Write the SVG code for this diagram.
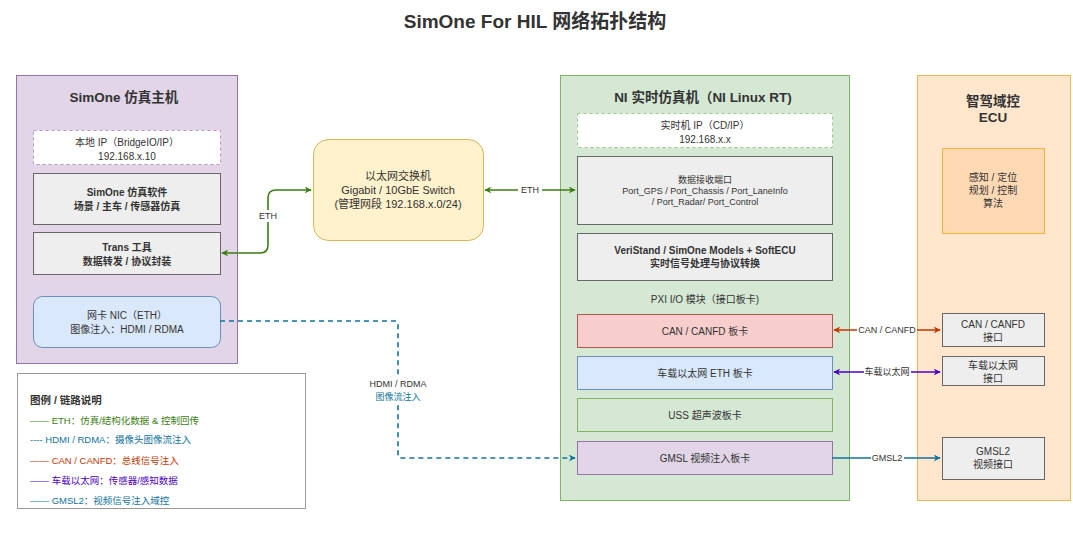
<svg xmlns="http://www.w3.org/2000/svg" width="1073" height="535" viewBox="0 0 1073 535">
<defs>
<style>
text{font-family:"Liberation Sans","Noto Sans CJK SC",sans-serif;fill:#333;text-anchor:middle}
.t{font-size:19px;font-weight:bold}
.h{font-size:13.5px;font-weight:bold}
.n{font-size:10px}
.b{font-weight:bold}
.s{font-size:9px}
.lg{font-size:9.5px;text-anchor:start}
.box{fill:#eeeeee;stroke:#666666;stroke-width:1}
.lbl{font-size:9px}
</style>
<marker id="ag" viewBox="0 0 10 10" refX="9" refY="5" markerWidth="7" markerHeight="7" orient="auto-start-reverse" markerUnits="userSpaceOnUse"><path d="M0,0 L10,5 L0,10 L3,5 z" fill="#3c7d12"/></marker>
<marker id="ar" viewBox="0 0 10 10" refX="9" refY="5" markerWidth="7" markerHeight="7" orient="auto-start-reverse" markerUnits="userSpaceOnUse"><path d="M0,0 L10,5 L0,10 L3,5 z" fill="#c73500"/></marker>
<marker id="ap" viewBox="0 0 10 10" refX="9" refY="5" markerWidth="7" markerHeight="7" orient="auto-start-reverse" markerUnits="userSpaceOnUse"><path d="M0,0 L10,5 L0,10 L3,5 z" fill="#4c00c8"/></marker>
<marker id="ab" viewBox="0 0 10 10" refX="9" refY="5" markerWidth="7" markerHeight="7" orient="auto-start-reverse" markerUnits="userSpaceOnUse"><path d="M0,0 L10,5 L0,10 L3,5 z" fill="#10739e"/></marker>
</defs>
<rect width="1073" height="535" fill="#ffffff"/>
<text class="t" x="535" y="28">SimOne For HIL 网络拓扑结构</text>

<g id="simone-host">
<rect x="16.5" y="75.5" width="221" height="288" fill="#e1d5e7" stroke="#9673a6"/>
<text class="h" x="124" y="102">SimOne 仿真主机</text>
</g>
<g id="local-ip">
<rect x="33.5" y="130.5" width="187" height="34" fill="#ffffff" stroke="#b39cc8" stroke-dasharray="3,3"/>
<text class="n" x="127" y="146">本地 IP（BridgeIO/IP）</text>
<text class="n" x="127" y="160">192.168.x.10</text>
</g>
<g id="simone-sw">
<rect class="box" x="33.5" y="173.5" width="187" height="51"/>
<text class="n b" x="127" y="196">SimOne 仿真软件</text>
<text class="n b" x="127" y="210">场景 / 主车 / 传感器仿真</text>
</g>
<g id="trans">
<rect class="box" x="33.5" y="232.5" width="187" height="42"/>
<text class="n b" x="127" y="251">Trans 工具</text>
<text class="n b" x="127" y="265">数据转发 / 协议封装</text>
</g>
<g id="nic">
<rect x="33.5" y="296.5" width="187" height="51" rx="9" fill="#dae8fc" stroke="#6c8ebf"/>
<text class="n" x="127" y="319">网卡 NIC（ETH）</text>
<text class="n" x="127" y="333">图像注入：HDMI / RDMA</text>
</g>

<g id="switch">
<rect x="313.5" y="139.5" width="170" height="101" rx="15" fill="#fff2cc" stroke="#d6b656"/>
<text style="font-size:11px" x="398" y="180">以太网交换机</text>
<text style="font-size:11px" x="398" y="194">Gigabit / 10GbE Switch</text>
<text style="font-size:11px" x="398" y="208">(管理网段 192.168.x.0/24)</text>
</g>

<g id="ni-rt">
<rect x="560.5" y="75.5" width="289" height="425" fill="#d5e8d4" stroke="#82b366"/>
<text class="h" x="703" y="102">NI 实时仿真机（NI Linux RT)</text>
</g>
<g id="rt-ip">
<rect x="577.5" y="113.5" width="255" height="34" fill="#ffffff" stroke="#9cc98a" stroke-dasharray="3,3"/>
<text class="n" x="705" y="129">实时机 IP（CD/IP）</text>
<text class="n" x="705" y="143">192.168.x.x</text>
</g>
<g id="ports">
<rect class="box" x="577.5" y="156.5" width="255" height="68"/>
<text class="s" x="705" y="183">数据接收端口</text>
<text class="s" x="705" y="194">Port_GPS / Port_Chassis / Port_LaneInfo</text>
<text class="s" x="705" y="205">/ Port_Radar/ Port_Control</text>
</g>
<g id="veristand">
<rect class="box" x="577.5" y="233.5" width="255" height="47"/>
<text class="n b" x="705" y="254">VeriStand / SimOne Models + SoftECU</text>
<text class="n b" x="705" y="267">实时信号处理与协议转换</text>
</g>
<text class="n" x="705" y="303">PXI I/O 模块（接口板卡)</text>
<g id="can-card">
<rect x="577.5" y="314.5" width="255" height="33" fill="#f8cecc" stroke="#b85450"/>
<text class="n" x="705" y="335">CAN / CANFD 板卡</text>
</g>
<g id="eth-card">
<rect x="577.5" y="356.5" width="255" height="33" fill="#dae8fc" stroke="#6c8ebf"/>
<text class="n" x="705" y="377">车载以太网 ETH 板卡</text>
</g>
<g id="uss-card">
<rect x="577.5" y="398.5" width="255" height="33" fill="#d5e8d4" stroke="#82b366"/>
<text class="n" x="705" y="419">USS 超声波板卡</text>
</g>
<g id="gmsl-card">
<rect x="577.5" y="441.5" width="255" height="33" fill="#e1d5e7" stroke="#9673a6"/>
<text class="n" x="705" y="462">GMSL 视频注入板卡</text>
</g>

<g id="ecu">
<rect x="917.5" y="75.5" width="153" height="425" fill="#ffe6cc" stroke="#e8b84e"/>
<text class="h" x="993" y="106">智驾域控</text>
<text class="h" x="993" y="122">ECU</text>
</g>
<g id="algo">
<rect x="942.5" y="148.5" width="102" height="85" fill="#ffd9b3" stroke="#f0b43c"/>
<text class="n" x="993" y="181">感知 / 定位</text>
<text class="n" x="993" y="194">规划 / 控制</text>
<text class="n" x="993" y="207">算法</text>
</g>
<g id="can-if">
<rect class="box" x="942.5" y="313.5" width="102" height="33"/>
<text class="n" x="993" y="328">CAN / CANFD</text>
<text class="n" x="993" y="341">接口</text>
</g>
<g id="eth-if">
<rect class="box" x="942.5" y="356.5" width="102" height="29"/>
<text class="n" x="993" y="369">车载以太网</text>
<text class="n" x="993" y="382">接口</text>
</g>
<g id="gmsl-if">
<rect class="box" x="942.5" y="437.5" width="102" height="42"/>
<text class="n" x="993" y="455">GMSL2</text>
<text class="n" x="993" y="468">视频接口</text>
</g>

<g id="connectors" fill="none" stroke-width="1.6">
<path d="M311,190 H276 Q268,190 268,198 V245 Q268,253 260,253 H222" stroke="#3c7d12" marker-start="url(#ag)" marker-end="url(#ag)"/>
<path d="M485,190 H575" stroke="#3c7d12" marker-start="url(#ag)" marker-end="url(#ag)"/>
<path d="M834,330 H940" stroke="#c73500" marker-start="url(#ar)" marker-end="url(#ar)"/>
<path d="M834,372 H940" stroke="#4c00c8" marker-start="url(#ap)" marker-end="url(#ap)"/>
<path d="M832,458 H940" stroke="#10739e" marker-end="url(#ab)"/>
<path d="M220,321 H396 Q398,321 398,323 V456 Q398,458 400,458 H575" stroke="#10739e" stroke-dasharray="5,4" marker-end="url(#ab)"/>
</g>
<g id="connector-labels">
<rect x="257" y="210" width="22" height="12" fill="#ffffff"/>
<text class="lbl" x="268" y="219">ETH</text>
<rect x="518" y="184" width="24" height="12" fill="#ffffff"/>
<text class="lbl" x="530" y="193">ETH</text>
<rect x="857" y="324" width="60" height="12" fill="#ffffff"/>
<text class="lbl" x="887" y="333">CAN / CANFD</text>
<rect x="864" y="366" width="47" height="12" fill="#ffffff"/>
<text class="lbl" x="887" y="375">车载以太网</text>
<rect x="871" y="452" width="33" height="12" fill="#ffffff"/>
<text class="lbl" x="887" y="461">GMSL2</text>
<rect x="366" y="378" width="64" height="26" fill="#ffffff"/>
<text class="lbl" x="398" y="387">HDMI / RDMA</text>
<text class="lbl" x="398" y="400" style="fill:#10739e">图像流注入</text>
</g>

<g id="legend">
<rect x="17.5" y="373.5" width="288" height="135" fill="#ffffff" stroke="#999999"/>
<text class="lg" x="30" y="404" style="font-weight:bold;font-size:10.5px">图例 / 链路说明</text>
<text class="lg" x="30" y="424" style="fill:#3c7d12">—— ETH：仿真/结构化数据 &amp; 控制回传</text>
<text class="lg" x="30" y="443" style="fill:#10739e">---- HDMI / RDMA：摄像头图像流注入</text>
<text class="lg" x="30" y="464" style="fill:#c73500">—— CAN / CANFD：总线信号注入</text>
<text class="lg" x="30" y="484" style="fill:#4c00c8">—— 车载以太网：传感器/感知数据</text>
<text class="lg" x="30" y="504" style="fill:#10739e">—— GMSL2：视频信号注入域控</text>
</g>
</svg>
